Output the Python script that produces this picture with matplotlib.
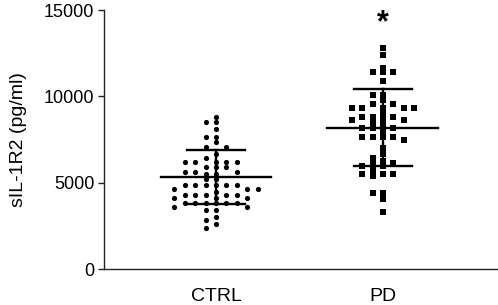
"""sIL-1R2 scatter-dot plot, CTRL vs PD, mean +/- SD."""

import numpy as np

import matplotlib
matplotlib.use("Agg")
import matplotlib.pyplot as plt

plt.rcParams["font.family"] = ["Liberation Sans", "DejaVu Sans"]

groups = ["CTRL", "PD"]

ctrl_values = [
    8830,
    8540, 8540,
    8090,
    7630, 7630,
    7340,
    7090, 7090,
    6640,
    6410,
    6180, 6180, 6180, 6180, 6180,
    5890, 5890, 5890,
    5640, 5640, 5640,
    5490, 5490,
    5210, 5210,
    4870, 4870, 4870, 4870, 4870, 4870,
    4630, 4630, 4630,
    4480,
    4290, 4290, 4290, 4290, 4290,
    4090, 4090, 4090,
    3800, 3800, 3800, 3800, 3800, 3800,
    3610, 3610,
    3420, 3420,
    3030, 2840, 2610, 2360,
]

pd_values = [
    12790, 12400, 11670,
    11400, 11400, 11400,
    10890,
    10080, 10080,
    9790,
    9540, 9540,
    9310, 9310, 9310, 9310, 9310,
    8960,
    8830, 8830, 8830,
    8630, 8630, 8630,
    8520, 8340,
    8150, 8150, 8150,
    7960,
    7670, 7670, 7670, 7670,
    7470, 7030, 6640, 6450, 6260,
    6120, 6120,
    5970, 5970,
    5740,
    5500, 5500, 5500,
    5390,
    4420, 4420,
    4040, 3280,
]

group_means = [5340, 8190]
group_sds = [1555, 2220]

y_ticks = [0, 5000, 10000, 15000]
y_label = "sIL-1R2 (pg/ml)"
sig_mark = "*"

# pixel scales of the axes (used only to lay out the swarm)
PX_PER_X = 167.0
PX_PER_Y = 0.01726


def swarm_offsets(values, col_px=10.4, min_dx=9.0, min_dy=4.6):
    # greedy scatter-dot layout on a half-column grid, top value first
    vals = np.asarray(values, dtype=float)
    order = np.argsort(-vals, kind="stable")
    cands = [0.0]
    for k in range(1, 12):
        cands += [-k * col_px / 2, k * col_px / 2]
    placed = []
    offs = np.zeros(len(vals))
    for i in order:
        y = vals[i] * PX_PER_Y
        for c in cands:
            if all(abs(c - px) >= min_dx or abs(y - py) >= min_dy for px, py in placed):
                break
        placed.append((c, y))
        offs[i] = c / PX_PER_X
    return offs


fig = plt.figure(figsize=(4.98, 3.05), dpi=100)
ax = fig.add_axes([0.2088, 0.118, 0.789, 0.849])

markers = ["o", "s"]
sizes = [14, 13]
for i, vals in enumerate([ctrl_values, pd_values]):
    xs = i + swarm_offsets(vals)
    ax.scatter(xs, vals, s=sizes[i], marker=markers[i], color="black", linewidths=0, zorder=3)

    m, sd = group_means[i], group_sds[i]
    ax.plot([i - 0.332, i + 0.332], [m, m], color="black", lw=1.7, zorder=4)
    ax.plot([i, i], [m - sd, m + sd], color="black", lw=1.7, zorder=4)
    for y in (m - sd, m + sd):
        ax.plot([i - 0.174, i + 0.174], [y, y], color="black", lw=1.7, zorder=4)

ax.text(1, 14250, sig_mark, ha="center", va="center", fontsize=22,
        fontweight="bold", color="black")

ax.set_xlim(-0.671, 1.683)
ax.set_ylim(0, 15000)
ax.set_xticks([0, 1])
ax.set_xticklabels(groups)
ax.set_yticks(y_ticks)
ax.set_ylabel(y_label, fontsize=14, labelpad=12)

for side in ("top", "right"):
    ax.spines[side].set_visible(False)
for side in ("left", "bottom"):
    ax.spines[side].set_linewidth(1.0)
    ax.spines[side].set_color("#222222")

ax.tick_params(axis="y", length=4, width=1.0, pad=3, labelsize=13, color="#222222")
ax.tick_params(axis="x", length=0, pad=14, labelsize=14)

fig.savefig("out.png", dpi=100)
plt.close(fig)
